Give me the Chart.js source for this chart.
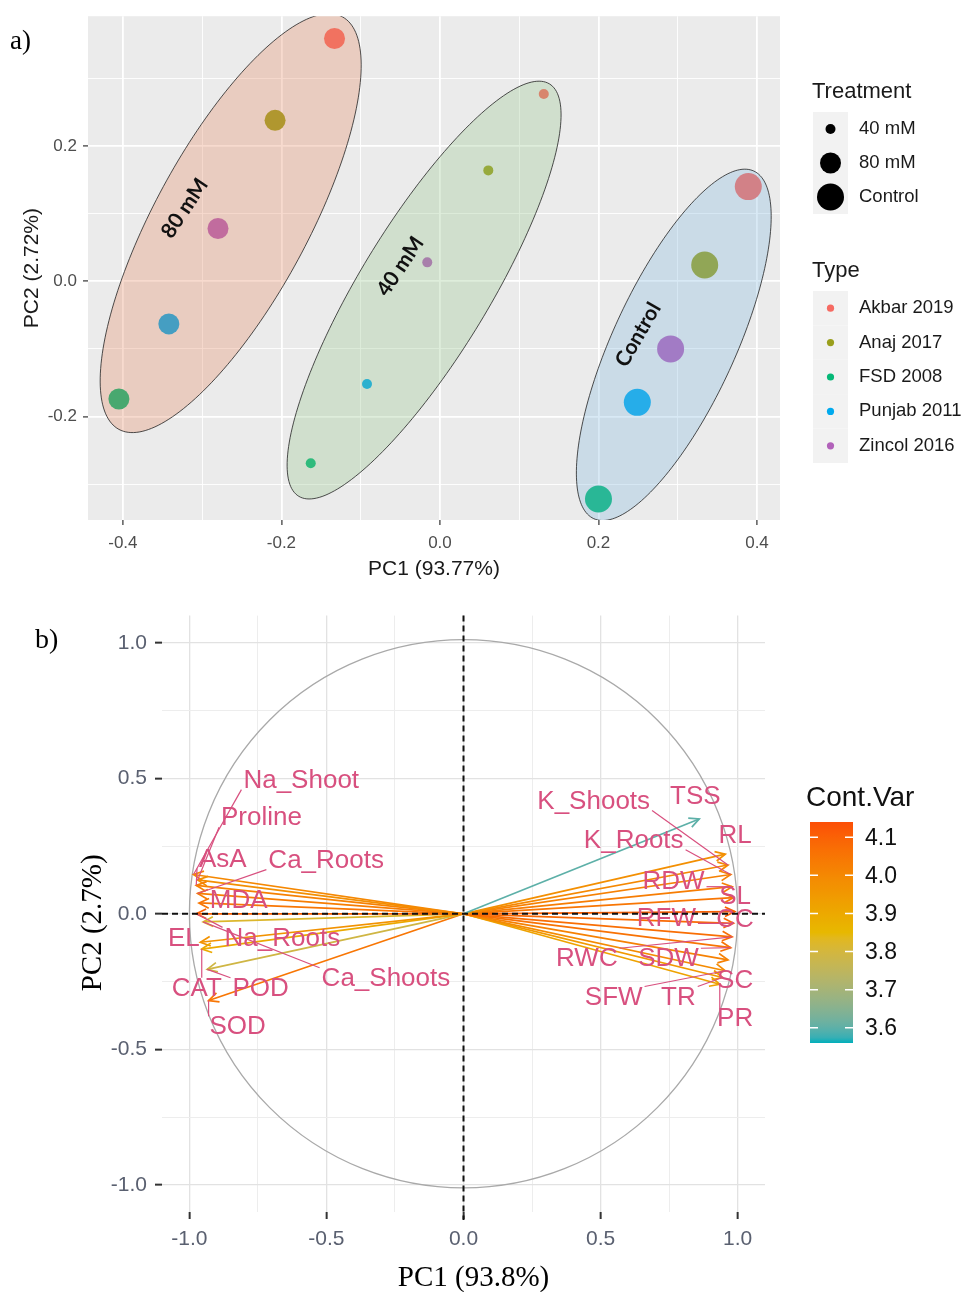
<!DOCTYPE html>
<html lang="en">
<head>
<meta charset="UTF-8">
<title>PCA individuals and variables</title>
<script src="https://cdn.jsdelivr.net/npm/chart.js"></script>
<style>
  body { margin: 0; background: #fff; width: 965px; height: 1292px; position: relative; overflow: hidden; }
  .panel { position: absolute; left: 0; }
  .tag { position: absolute; font-family: "Liberation Serif", serif; color: #000; z-index: 2; }
</style>
</head>
<body>
<div class="panel" style="top:0"><canvas id="scoreChart" width="965" height="590"></canvas></div>
<div class="panel" style="top:595px"><canvas id="varChart" width="965" height="697"></canvas></div>
<div class="tag" style="left:10px;top:25px;font-size:27px">a)</div>
<div class="tag" style="left:35px;top:623px;font-size:28px">b)</div>

<script>
// ---------- panel a: scores ----------
const typeNames = ['Akbar 2019', 'Anaj 2017', 'FSD 2008', 'Punjab 2011', 'Zincol 2016'];
const treatmentNames = ['40 mM', '80 mM', 'Control'];
const pc1_40mM = [0.131, 0.061, -0.163, -0.092, -0.016];
const pc2_40mM = [0.277, 0.164, -0.269, -0.152, 0.028];
const pc1_80mM = [-0.133, -0.208, -0.405, -0.342, -0.280];
const pc2_80mM = [0.359, 0.238, -0.174, -0.063, 0.078];
const pc1_control = [0.389, 0.334, 0.200, 0.249, 0.291];
const pc2_control = [0.140, 0.024, -0.322, -0.179, -0.100];
// group ellipses (PC units): centre, half major axis, half minor axis
const ellipseCentre = [[-0.020, -0.013], [-0.264, 0.086], [0.295, -0.094]];
const ellipseMajor = [[0.158, 0.305], [0.141, 0.305], [0.101, 0.257]];
const ellipseMinor = [[0.070, -0.049], [0.085, -0.054], [0.070, -0.038]];

// ---------- panel b: variables ----------
const varNames = ['TSS', 'RL', 'K_Shoots', 'K_Roots', 'RDW', 'SL', 'RFW', 'CC', 'RWC', 'SDW', 'SC', 'SFW', 'TR', 'PR',
  'Na_Shoot', 'Proline', 'AsA', 'Ca_Roots', 'MDA', 'Na_Roots', 'Ca_Shoots', 'EL', 'CAT', 'POD', 'SOD'];
const varPC1 = [0.86, 0.955, 0.965, 0.975, 0.98, 0.985, 0.985, 0.99, 0.98, 0.975, 0.965, 0.955, 0.945, 0.935,
  -0.985, -0.97, -0.975, -0.97, -0.965, -0.975, -0.95, -0.96, -0.955, -0.935, -0.93];
const varPC2 = [0.35, 0.22, 0.18, 0.145, 0.10, 0.06, -0.035, 0.008, -0.085, -0.125, -0.17, -0.21, -0.235, -0.26,
  0.145, 0.125, 0.105, 0.075, 0.04, 0.0, -0.03, -0.105, -0.13, -0.205, -0.32];
const varContrib = [3.60, 3.98, 4.00, 4.02, 4.03, 4.05, 4.08, 4.10, 4.07, 4.06, 4.02, 3.99, 3.95, 3.92,
  4.00, 3.98, 4.02, 4.03, 4.05, 4.10, 3.82, 3.97, 3.90, 3.79, 4.05];
const contribTicks = [3.6, 3.7, 3.8, 3.9, 4.0, 4.1];
const contribRange = [3.56, 4.14];

// ---------- styles / layout ----------
const typeColors = ['#F66A62', '#9A9F1C', '#05B877', '#00AAEE', '#B262BA'];
const pointRadius = [5, 10.5, 13.5];
const ellipseFill = ['rgba(145,195,135,0.3)', 'rgba(228,132,92,0.3)', 'rgba(125,182,222,0.3)'];
const groupLabelAt = [[-0.050, 0.022], [-0.322, 0.108], [0.250, -0.079]];
const groupLabelAngle = [-56, -56, -60];
const gradientCols = ['#00AFBB', '#E7B800', '#FC4E07'];
const labelColor = '#D8507F';
// repelled label anchors, PC units
const labelAt = [[0.846, 0.436], [0.991, 0.291], [0.475, 0.418], [0.621, 0.273], [0.766, 0.12], [0.991, 0.065],
  [0.74, -0.015], [0.991, -0.018], [0.45, -0.164], [0.748, -0.164], [0.991, -0.244], [0.548, -0.305],
  [0.784, -0.305], [0.991, -0.385],
  [-0.592, 0.495], [-0.737, 0.356], [-0.878, 0.204], [-0.501, 0.2], [-0.82, 0.051], [-0.661, -0.087],
  [-0.283, -0.236], [-1.02, -0.087], [-0.973, -0.273], [-0.74, -0.273], [-0.824, -0.415]];

const SANS = '"Liberation Sans", Arial, sans-serif';
const SERIF = '"Liberation Serif", "Times New Roman", serif';

function isMajor(v, step) {
  return Math.abs(v / step - Math.round(v / step)) < 1e-6;
}
function fmt(v) {
  return Math.abs(v) < 1e-9 ? '0.0' : v.toFixed(1);
}
function toPx(chart, vx, vy) {
  return [chart.scales.x.getPixelForValue(vx), chart.scales.y.getPixelForValue(vy)];
}

// colour gradient interpolated in Lab, like ggplot's gradientn
function hexRgb(h) {
  return [parseInt(h.slice(1, 3), 16), parseInt(h.slice(3, 5), 16), parseInt(h.slice(5, 7), 16)];
}
function rgbToLab(c) {
  const lin = c.map(v => { v /= 255; return v > 0.04045 ? Math.pow((v + 0.055) / 1.055, 2.4) : v / 12.92; });
  const X = (lin[0] * 0.4124 + lin[1] * 0.3576 + lin[2] * 0.1805) / 0.95047;
  const Y = (lin[0] * 0.2126 + lin[1] * 0.7152 + lin[2] * 0.0722);
  const Z = (lin[0] * 0.0193 + lin[1] * 0.1192 + lin[2] * 0.9505) / 1.08883;
  const f = t => t > 0.008856 ? Math.cbrt(t) : 7.787 * t + 16 / 116;
  return [116 * f(Y) - 16, 500 * (f(X) - f(Y)), 200 * (f(Y) - f(Z))];
}
function labToRgb(l) {
  const fy = (l[0] + 16) / 116, fx = fy + l[1] / 500, fz = fy - l[2] / 200;
  const g = t => t * t * t > 0.008856 ? t * t * t : (t - 16 / 116) / 7.787;
  const X = g(fx) * 0.95047, Y = g(fy), Z = g(fz) * 1.08883;
  const lin = [X * 3.2406 - Y * 1.5372 - Z * 0.4986, -X * 0.9689 + Y * 1.8758 + Z * 0.0415,
    X * 0.0557 - Y * 0.2040 + Z * 1.0570];
  return lin.map(v => {
    v = v > 0.0031308 ? 1.055 * Math.pow(v, 1 / 2.4) - 0.055 : 12.92 * v;
    return Math.round(Math.max(0, Math.min(1, v)) * 255);
  });
}
const gradientLab = gradientCols.map(h => rgbToLab(hexRgb(h)));
function contribColor(v) {
  let t = (v - contribRange[0]) / (contribRange[1] - contribRange[0]);
  t = Math.max(0, Math.min(1, t));
  const seg = t < 0.5 ? 0 : 1;
  const f = t < 0.5 ? t * 2 : (t - 0.5) * 2;
  const a = gradientLab[seg], b = gradientLab[seg + 1];
  return 'rgb(' + labToRgb(a.map((x, i) => x + (b[i] - x) * f)).join(',') + ')';
}

// ---------- chart a ----------
const scoreSeries = [[pc1_40mM, pc2_40mM], [pc1_80mM, pc2_80mM], [pc1_control, pc2_control]];

const panelA = {
  id: 'panelA',
  beforeDraw(chart) {
    const a = chart.chartArea, ctx = chart.ctx;
    ctx.save();
    ctx.fillStyle = '#EBEBEB';
    ctx.fillRect(a.left, a.top, a.right - a.left, a.bottom - a.top);
    ctx.restore();
  },
  afterDatasetsDraw(chart) {
    const a = chart.chartArea, ctx = chart.ctx;
    ctx.save();
    ctx.beginPath();
    ctx.rect(a.left, a.top, a.right - a.left, a.bottom - a.top);
    ctx.clip();
    treatmentNames.forEach((n, k) => {
      const c = ellipseCentre[k], u = ellipseMajor[k], v = ellipseMinor[k];
      ctx.beginPath();
      for (let s = 0; s <= 200; s++) {
        const t = s / 200 * 2 * Math.PI;
        const p = toPx(chart, c[0] + u[0] * Math.cos(t) + v[0] * Math.sin(t),
                              c[1] + u[1] * Math.cos(t) + v[1] * Math.sin(t));
        if (s === 0) ctx.moveTo(p[0], p[1]); else ctx.lineTo(p[0], p[1]);
      }
      ctx.closePath();
      ctx.fillStyle = ellipseFill[k];
      ctx.fill();
      ctx.strokeStyle = '#222';
      ctx.lineWidth = 0.8;
      ctx.stroke();
    });
    // group names
    ctx.fillStyle = '#111';
    ctx.font = 'bold 21px Lato, "Open Sans", sans-serif';
    ctx.textAlign = 'center';
    ctx.textBaseline = 'middle';
    treatmentNames.forEach((n, k) => {
      const p = toPx(chart, groupLabelAt[k][0], groupLabelAt[k][1]);
      ctx.save();
      ctx.translate(p[0], p[1]);
      ctx.rotate(groupLabelAngle[k] * Math.PI / 180);
      ctx.fillText(n, 0, 0);
      ctx.restore();
    });
    ctx.restore();
  },
  afterDraw(chart) {
    const ctx = chart.ctx;
    ctx.save();
    ctx.textBaseline = 'middle';
    ctx.textAlign = 'left';
    // Treatment legend
    ctx.fillStyle = '#1a1a1a';
    ctx.font = '22px ' + SANS;
    ctx.fillText('Treatment', 812, 92);
    treatmentNames.forEach((n, k) => {
      const top = 112 + k * 34;
      ctx.fillStyle = '#F2F2F2';
      ctx.fillRect(813, top, 35, 34);
      ctx.fillStyle = '#000';
      ctx.beginPath();
      ctx.arc(830.5, top + 17, pointRadius[k], 0, 2 * Math.PI);
      ctx.fill();
      ctx.fillStyle = '#1a1a1a';
      ctx.font = '18.5px ' + SANS;
      ctx.fillText(n, 859, top + 17);
    });
    // Type legend
    ctx.font = '22px ' + SANS;
    ctx.fillText('Type', 812, 271);
    typeNames.forEach((n, i) => {
      const top = 291 + i * 34.4;
      ctx.fillStyle = '#F2F2F2';
      ctx.fillRect(813, top, 35, 34.4);
      ctx.fillStyle = typeColors[i];
      ctx.beginPath();
      ctx.arc(830.5, top + 17.2, 3.6, 0, 2 * Math.PI);
      ctx.fill();
      ctx.fillStyle = '#1a1a1a';
      ctx.font = '18.5px ' + SANS;
      ctx.fillText(n, 859, top + 17.2);
    });
    ctx.restore();
  }
};

function gridA(step) {
  return {
    color: '#FFFFFF',
    lineWidth: c => isMajor(c.tick.value, step) ? 1.8 : 0.9,
    tickColor: c => isMajor(c.tick.value, step) ? '#333333' : 'rgba(0,0,0,0)',
    tickLength: 5,
    tickWidth: 1.2
  };
}

new Chart(document.getElementById('scoreChart'), {
  type: 'scatter',
  data: {
    datasets: scoreSeries.map((s, k) => ({
      label: treatmentNames[k],
      data: s[0].map((x, i) => ({ x: x, y: s[1][i] })),
      pointBackgroundColor: typeColors,
      pointBorderWidth: 0,
      pointRadius: pointRadius[k],
      pointHoverRadius: pointRadius[k]
    }))
  },
  options: {
    responsive: false,
    animation: false,
    devicePixelRatio: 1,
    layout: { padding: { left: 0, top: 15, right: 185, bottom: 0 } },
    plugins: { legend: { display: false }, tooltip: { enabled: false } },
    scales: {
      x: {
        type: 'linear', min: -0.444, max: 0.429,
        afterFit: s => { s.height = 70; },
        border: { display: false },
        grid: gridA(0.2),
        ticks: {
          stepSize: 0.1, includeBounds: false, autoSkip: false, maxRotation: 0, padding: 8,
          color: '#4D4D4D', font: { family: SANS, size: 17 },
          callback: v => isMajor(v, 0.2) ? fmt(v) : ''
        },
        title: { display: true, text: 'PC1 (93.77%)', color: '#1a1a1a',
          font: { family: SANS, size: 21 }, padding: { top: 0, bottom: 8 } }
      },
      y: {
        type: 'linear', min: -0.353, max: 0.392,
        afterFit: s => { s.width = 88; },
        border: { display: false },
        grid: gridA(0.2),
        ticks: {
          stepSize: 0.1, includeBounds: false, autoSkip: false, padding: 6,
          color: '#4D4D4D', font: { family: SANS, size: 17 },
          callback: v => isMajor(v, 0.2) ? fmt(v) : ''
        },
        title: { display: true, text: 'PC2 (2.72%)', color: '#1a1a1a',
          font: { family: SANS, size: 21 }, padding: { top: 20, bottom: 0 } }
      }
    }
  },
  plugins: [panelA]
});

// ---------- chart b ----------
const panelB = {
  id: 'panelB',
  beforeDatasetsDraw(chart) {
    const ctx = chart.ctx;
    const o = toPx(chart, 0, 0);
    const r = chart.scales.x.getPixelForValue(1) - o[0];
    ctx.save();
    ctx.strokeStyle = '#A9A9A9';
    ctx.lineWidth = 1.3;
    ctx.beginPath();
    ctx.arc(o[0], o[1], r, 0, 2 * Math.PI);
    ctx.stroke();
    ctx.restore();
  },
  afterDatasetsDraw(chart) {
    const ctx = chart.ctx, a = chart.chartArea;
    const o = toPx(chart, 0, 0);
    ctx.save();
    // arrow heads
    ctx.lineWidth = 1.7;
    varNames.forEach((n, i) => {
      const t = toPx(chart, varPC1[i], varPC2[i]);
      const ang = Math.atan2(t[1] - o[1], t[0] - o[0]);
      ctx.strokeStyle = contribColor(varContrib[i]);
      ctx.beginPath();
      ctx.moveTo(t[0] - 11 * Math.cos(ang - 0.45), t[1] - 11 * Math.sin(ang - 0.45));
      ctx.lineTo(t[0], t[1]);
      ctx.lineTo(t[0] - 11 * Math.cos(ang + 0.45), t[1] - 11 * Math.sin(ang + 0.45));
      ctx.stroke();
    });
    // labels with leader segments
    ctx.font = '26px ' + SANS;
    ctx.textAlign = 'center';
    ctx.textBaseline = 'middle';
    ctx.strokeStyle = labelColor;
    ctx.fillStyle = labelColor;
    ctx.lineWidth = 1.2;
    varNames.forEach((n, i) => {
      const l = toPx(chart, labelAt[i][0], labelAt[i][1]);
      const t = toPx(chart, varPC1[i], varPC2[i]);
      const w = ctx.measureText(n).width, h = 20;
      const nx = Math.max(l[0] - w / 2 - 2, Math.min(t[0], l[0] + w / 2 + 2));
      const ny = Math.max(l[1] - h / 2, Math.min(t[1], l[1] + h / 2));
      if (Math.hypot(t[0] - nx, t[1] - ny) > 14) {
        ctx.beginPath();
        ctx.moveTo(nx, ny);
        ctx.lineTo(t[0], t[1]);
        ctx.stroke();
      }
      ctx.fillText(n, l[0], l[1] + 1);
    });
    // zero reference lines
    ctx.strokeStyle = '#111';
    ctx.lineWidth = 2;
    ctx.setLineDash([6, 4]);
    ctx.beginPath();
    ctx.moveTo(a.left, o[1]); ctx.lineTo(a.right, o[1]);
    ctx.moveTo(o[0], a.top); ctx.lineTo(o[0], a.bottom + 8);
    ctx.stroke();
    ctx.restore();
  },
  afterDraw(chart) {
    const ctx = chart.ctx, a = chart.chartArea;
    ctx.save();
    // axis titles
    ctx.fillStyle = '#000';
    ctx.font = '29px ' + SERIF;
    ctx.textAlign = 'center';
    ctx.textBaseline = 'middle';
    ctx.fillText('PC1 (93.8%)', (a.left + a.right) / 2 + 10, 683);
    ctx.save();
    ctx.translate(93, (a.top + a.bottom) / 2 + 9);
    ctx.rotate(-Math.PI / 2);
    ctx.fillText('PC2 (2.7%)', 0, 0);
    ctx.restore();
    // colour bar
    const bx = 810, bw = 43, top = 227, bottom = 448;
    ctx.fillStyle = '#111';
    ctx.font = '28px ' + SANS;
    ctx.textAlign = 'left';
    ctx.fillText('Cont.Var', 806, 203);
    const g = ctx.createLinearGradient(0, bottom, 0, top);
    for (let s = 0; s <= 40; s++) {
      const v = contribRange[0] + (contribRange[1] - contribRange[0]) * s / 40;
      g.addColorStop(s / 40, contribColor(v));
    }
    ctx.fillStyle = g;
    ctx.fillRect(bx, top, bw, bottom - top);
    ctx.strokeStyle = '#FFFFFF';
    ctx.lineWidth = 1.5;
    ctx.font = '23px ' + SANS;
    ctx.fillStyle = '#111';
    contribTicks.forEach(v => {
      const y = bottom - (v - contribRange[0]) / (contribRange[1] - contribRange[0]) * (bottom - top);
      ctx.beginPath();
      ctx.moveTo(bx, y); ctx.lineTo(bx + 8, y);
      ctx.moveTo(bx + bw - 8, y); ctx.lineTo(bx + bw, y);
      ctx.stroke();
      ctx.fillText(v.toFixed(1), 865, y + 1);
    });
    ctx.restore();
  }
};

function gridB() {
  return {
    color: c => isMajor(c.tick.value, 0.5) ? '#E2E2E2' : '#EDEDED',
    lineWidth: c => isMajor(c.tick.value, 0.5) ? 1.3 : 1,
    tickColor: c => isMajor(c.tick.value, 0.5) ? '#333333' : 'rgba(0,0,0,0)',
    tickLength: 7,
    tickWidth: 2
  };
}

new Chart(document.getElementById('varChart'), {
  type: 'scatter',
  data: {
    datasets: varNames.map((n, i) => ({
      label: n,
      data: [{ x: 0, y: 0 }, { x: varPC1[i], y: varPC2[i] }],
      showLine: true,
      borderColor: contribColor(varContrib[i]),
      borderWidth: 1.7,
      pointRadius: 0,
      pointHoverRadius: 0,
      fill: false
    }))
  },
  options: {
    responsive: false,
    animation: false,
    devicePixelRatio: 1,
    layout: { padding: { left: 0, top: 13, right: 200, bottom: 0 } },
    plugins: { legend: { display: false }, tooltip: { enabled: false } },
    scales: {
      x: {
        type: 'linear', min: -1.1, max: 1.1,
        afterFit: s => { s.height = 80; },
        border: { display: false },
        grid: gridB(),
        ticks: {
          stepSize: 0.25, includeBounds: false, autoSkip: false, maxRotation: 0, padding: 8,
          color: '#5A6070', font: { family: SANS, size: 21 },
          callback: v => isMajor(v, 0.5) ? fmt(v) : ''
        },
        title: { display: false }
      },
      y: {
        type: 'linear', min: -1.1, max: 1.1,
        afterFit: s => { s.width = 162; },
        border: { display: false },
        grid: gridB(),
        ticks: {
          stepSize: 0.25, includeBounds: false, autoSkip: false, padding: 8,
          color: '#5A6070', font: { family: SANS, size: 21 },
          callback: v => isMajor(v, 0.5) ? fmt(v) : ''
        },
        title: { display: false }
      }
    }
  },
  plugins: [panelB]
});
</script>
</body>
</html>
